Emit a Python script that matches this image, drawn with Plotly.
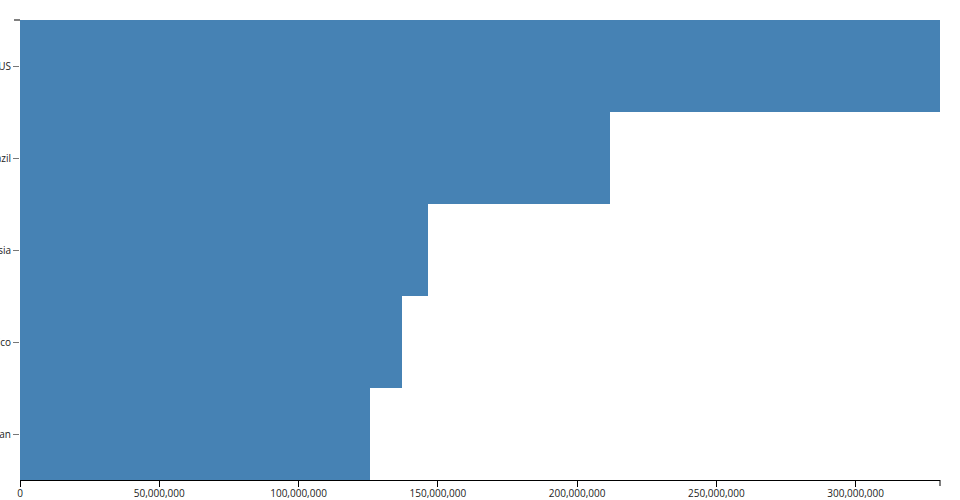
import plotly.graph_objects as go

countries = ["US", "Brazil", "Russia", "Mexico", "Japan"]
population = [330300000, 211900000, 146500000, 137300000, 125700000]
x_tick_values = [0, 50000000, 100000000, 150000000, 200000000, 250000000, 300000000]

fig = go.Figure(go.Bar(
    x=population,
    y=countries,
    orientation="h",
    marker=dict(color="#4682B4", line=dict(width=0)),
    hoverinfo="skip",
))

fig.update_layout(
    width=960, height=500,
    margin=dict(l=20, r=20, t=20, b=20),
    plot_bgcolor="white", paper_bgcolor="white",
    bargap=0,
    showlegend=False,
    font=dict(family="Open Sans", size=10, color="#222"),
    xaxis=dict(
        range=[0, max(population)],
        tickvals=x_tick_values,
        tickformat=",d",
        ticks="outside", ticklen=6, tickcolor="#000", tickwidth=1,
        ticklabelstandoff=-2,
        showline=True, linecolor="#000", linewidth=1,
        showgrid=False, zeroline=False,
        automargin=False, fixedrange=True,
    ),
    yaxis=dict(
        categoryorder="array", categoryarray=countries[::-1],
        ticks="outside", ticklen=6, tickcolor="#777", tickwidth=1,
        showline=False, showgrid=False, zeroline=False,
        automargin=False, fixedrange=True,
    ),
    shapes=[
        dict(type="line", xref="paper", yref="paper", x0=-6/920, x1=0, y0=1, y1=1,
             line=dict(color="#000", width=1)),
        dict(type="line", xref="paper", yref="paper", x0=1, x1=1, y0=0, y1=-6/460,
             line=dict(color="#000", width=1)),
    ],
)

fig.write_html(
    "out.html",
    config={"displayModeBar": False},
    post_script="document.body.style.margin='0';document.body.style.padding='0';",
)
